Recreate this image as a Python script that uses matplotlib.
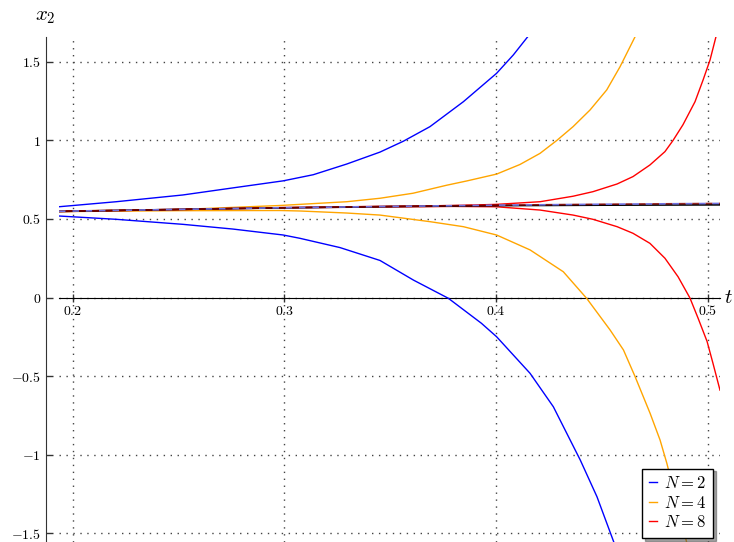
import matplotlib
matplotlib.use("Agg")
import matplotlib.pyplot as plt
from matplotlib import transforms

plt.rcParams['mathtext.fontset'] = 'cm'
plt.rcParams['font.family'] = ['DejaVu Serif']

# ---- data ----
t_blue_up = [0.1936, 0.2206, 0.2521, 0.2757, 0.2995, 0.3137, 0.3295, 0.3452, 0.3562, 0.3688, 0.3846, 0.4003, 0.4082, 0.4153, 0.4180]
x_blue_up = [0.578, 0.610, 0.653, 0.698, 0.743, 0.782, 0.850, 0.926, 0.995, 1.088, 1.247, 1.428, 1.545, 1.666, 1.720]

t_blue_lo = [0.1936, 0.2206, 0.2521, 0.2757, 0.2995, 0.3074, 0.3263, 0.3452, 0.3610, 0.3775, 0.3931, 0.4003, 0.4161, 0.4271, 0.4398, 0.4477, 0.4556, 0.4580]
x_blue_lo = [0.519, 0.498, 0.466, 0.436, 0.398, 0.377, 0.318, 0.236, 0.111, -0.005, -0.164, -0.250, -0.483, -0.696, -1.035, -1.269, -1.556, -1.640]

t_orange_up = [0.1936, 0.2500, 0.2980, 0.3295, 0.3452, 0.3608, 0.3767, 0.3861, 0.4003, 0.4113, 0.4208, 0.4287, 0.4364, 0.4444, 0.4523, 0.4586, 0.4657, 0.4680]
x_orange_up = [0.551, 0.560, 0.586, 0.610, 0.632, 0.664, 0.715, 0.742, 0.786, 0.847, 0.918, 1.000, 1.088, 1.194, 1.322, 1.470, 1.661, 1.720]

t_orange_lo = [0.1936, 0.2500, 0.2980, 0.3074, 0.3295, 0.3452, 0.3688, 0.3846, 0.4003, 0.4161, 0.4318, 0.4428, 0.4539, 0.4602, 0.4657, 0.4728, 0.4775, 0.4807, 0.4898, 0.4915]
x_orange_lo = [0.547, 0.553, 0.554, 0.551, 0.538, 0.525, 0.483, 0.451, 0.398, 0.303, 0.164, -0.005, -0.207, -0.334, -0.504, -0.738, -0.908, -1.056, -1.545, -1.640]

t_red_up = [0.1936, 0.3000, 0.3800, 0.4000, 0.4208, 0.4364, 0.4458, 0.4572, 0.4647, 0.4727, 0.4798, 0.4836, 0.4883, 0.4940, 0.4978, 0.5011, 0.5039, 0.5058]
x_red_up = [0.549, 0.573, 0.586, 0.593, 0.610, 0.645, 0.674, 0.723, 0.770, 0.844, 0.929, 1.000, 1.100, 1.247, 1.385, 1.513, 1.661, 1.760]

t_red_lo = [0.1936, 0.3000, 0.3800, 0.4000, 0.4208, 0.4364, 0.4458, 0.4572, 0.4647, 0.4727, 0.4798, 0.4860, 0.4916, 0.4954, 0.4997, 0.5025, 0.5058]
x_red_lo = [0.547, 0.571, 0.580, 0.578, 0.557, 0.525, 0.498, 0.451, 0.409, 0.345, 0.250, 0.132, -0.003, -0.130, -0.280, -0.420, -0.590]

t_exact = [0.1936, 0.2500, 0.3000, 0.3500, 0.4000, 0.4500, 0.5058]
x_exact = [0.548, 0.561, 0.571, 0.579, 0.585, 0.588, 0.590]

t_mid = [0.1936, 0.3000, 0.4000, 0.4500, 0.5058]
x_mid = [0.549, 0.572, 0.588, 0.594, 0.599]

x_ticks = [0.2, 0.3, 0.4, 0.5]
x_ticklabels = ['$0.2$', '$0.3$', '$0.4$', '$0.5$']
y_ticks = [-1.5, -1.0, -0.5, 0.0, 0.5, 1.0, 1.5]
y_ticklabels = ['$-1.5$', '$-1$', '$-0.5$', '$0$', '$0.5$', '$1$', '$1.5$']
labels = ['$N=2$', '$N=4$', '$N=8$']
colors = ['#0000ff', '#ffa500', '#ff0000']

# ---- figure ----
fig = plt.figure(figsize=(7.34, 5.42), dpi=100)
W, H = 734, 542
ax = fig.add_axes([59 / W, 0.0, (720 - 59) / W, (542 - 37) / H])
ax.set_xlim(0.1936, 0.5058)
ax.set_ylim(-1.557, 1.659)

lw = 1.0
ax.plot(t_blue_up, x_blue_up, color=colors[0], lw=lw, label=labels[0], zorder=3)
ax.plot(t_blue_lo, x_blue_lo, color=colors[0], lw=lw, zorder=3)
ax.plot(t_orange_up, x_orange_up, color=colors[1], lw=lw, label=labels[1], zorder=3)
ax.plot(t_orange_lo, x_orange_lo, color=colors[1], lw=lw, zorder=3)
ax.plot(t_red_up, x_red_up, color=colors[2], lw=lw, label=labels[2], zorder=3)
ax.plot(t_red_lo, x_red_lo, color=colors[2], lw=lw, zorder=3)
ax.plot(t_exact, x_exact, color='black', lw=1.2, zorder=4)
ax.plot(t_mid, x_mid, color='#7070e0', lw=1.2, ls=(0, (4, 4)), zorder=5)
ax.plot(t_mid, x_mid, color='#800000', lw=1.2, ls=(4, (4, 4)), zorder=5, alpha=0.85)

ax.set_xticks(x_ticks)
ax.set_xticklabels(x_ticklabels)
ax.set_yticks(y_ticks)
ax.set_yticklabels(y_ticklabels)
ax.tick_params(labelsize=10, colors='#333333', labelcolor='black')
ax.tick_params(axis='y', direction='in', length=5, width=1)
ax.tick_params(axis='x', direction='inout', length=6, width=1, pad=2)

for s in ['top', 'right']:
    ax.spines[s].set_visible(False)
ax.spines['bottom'].set_position(('data', 0))
ax.spines['bottom'].set_color('black')
ax.spines['left'].set_position(('outward', 13 * 72 / 100))
ax.spines['left'].set_color('#333333')
ax.patch.set_visible(False)

ax.grid(True, linestyle=(0, (1, 4)), color='#444444', linewidth=1.0)
ax.set_axisbelow(True)

fig.text(45 / W, 1 - 16 / H, '$x_2$', fontsize=15, ha='center', va='center')
trans = transforms.blended_transform_factory(fig.transFigure, ax.transData)
ax.text(724 / W, 0.0, '$t$', fontsize=15, ha='left', va='center', transform=trans, clip_on=False)

leg = ax.legend(loc='lower right', bbox_to_anchor=(0.989, 0.008), borderaxespad=0,
                fontsize=12, handlelength=0.5, handletextpad=0.4, labelspacing=0.15,
                fancybox=False, shadow=True, framealpha=1, borderpad=0.4)
leg.get_frame().set_edgecolor('black')
leg.get_frame().set_linewidth(1.0)

fig.savefig('out.png', dpi=100)
